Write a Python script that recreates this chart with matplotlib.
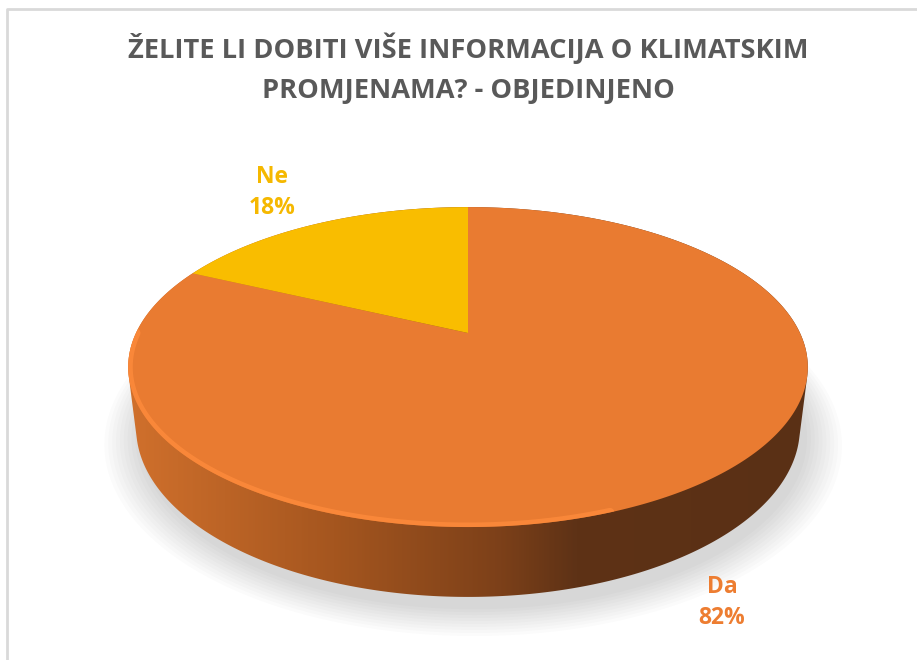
import numpy as np
import matplotlib
matplotlib.use("Agg")
import matplotlib.pyplot as plt
import matplotlib.transforms as mtransforms
from matplotlib.path import Path
from matplotlib.colors import LinearSegmentedColormap
from matplotlib.patches import Polygon, Circle

# ---- data ----
categories = ["Da", "Ne"]
values = [82, 18]
title_lines = ["ŽELITE LI DOBITI VIŠE INFORMACIJA O KLIMATSKIM",
               "PROMJENAMA? - OBJEDINJENO"]

top_colors = ["#E97B31", "#F9BD00"]
label_colors = ["#ED7D31", "#F5B800"]

W, H = 917, 660
fig = plt.figure(figsize=(W / 100, H / 100), dpi=100)
fig.patch.set_facecolor("white")

ax = fig.add_axes([0, 0, 1, 1])
ax.set_xlim(0, W)
ax.set_ylim(H, 0)
ax.axis("off")

# frame (only top/left edges visible in the crop)
ax.plot([7, 7, W + 5], [H + 5, 9, 9], color="#D9D9D9", lw=2,
        solid_capstyle="butt", zorder=0)

font = "Open Sans"
for i, line in enumerate(title_lines):
    ax.text(468, 58 + 40 * i, line, ha="center", va="baseline",
            fontsize=19.6, fontweight="bold", color="#595959", family=font)

# ---- perspective projection of the pie disk (3-D look) ----
CX, CY, K = 468.0, 333.0, 332.0
CA, SA, DIST = 0.46, 0.888, 4.17
THICK = 0.207


class Persp(mtransforms.Transform):
    input_dims = output_dims = 2
    is_separable = False
    has_inverse = False

    def __init__(self, z=0.0):
        super().__init__()
        self.z = z

    def transform_non_affine(self, values):
        v = np.asarray(values, float).reshape(-1, 2)
        x, y = v[:, 0], v[:, 1]
        Y = y * CA + self.z * SA
        Z = DIST + y * SA - self.z * CA
        return np.column_stack([CX + K * x * DIST / Z, CY - K * Y * DIST / Z])

    def transform_path_non_affine(self, path):
        pts = []
        for bez, code in path.iter_bezier():
            if code == Path.MOVETO:
                pts.append(np.atleast_2d(bez.control_points))
            else:
                pts.append(bez(np.linspace(0, 1, 24))[1:])
        verts = np.vstack(pts)
        return Path(self.transform_non_affine(verts))


top_T = Persp(0.0) + ax.transData

# soft shadow under the pie
for k in range(10):
    r = 1.0 + 0.011 * k
    c = Circle((0.015, -0.035), r, facecolor="black", alpha=0.017, lw=0, zorder=1)
    c.set_transform(Persp(-THICK - 0.01) + ax.transData)
    ax.add_patch(c)

# side wall: convex hull of the projected top and bottom rims
th = np.linspace(0, 2 * np.pi, 720, endpoint=False)
ring = np.column_stack([np.cos(th), np.sin(th)])
top_ring = Persp(0.0).transform(ring)
P = np.vstack([top_ring, Persp(-THICK).transform(ring)])


def hull(points):
    pts = sorted(map(tuple, points))

    def cross(o, a, b):
        return (a[0] - o[0]) * (b[1] - o[1]) - (a[1] - o[1]) * (b[0] - o[0])
    lower, upper = [], []
    for p in pts:
        while len(lower) >= 2 and cross(lower[-2], lower[-1], p) <= 0:
            lower.pop()
        lower.append(p)
    for p in reversed(pts):
        while len(upper) >= 2 and cross(upper[-2], upper[-1], p) <= 0:
            upper.pop()
        upper.append(p)
    return np.array(lower[:-1] + upper[:-1])


side = Polygon(hull(P), closed=True, facecolor="none", lw=0)
ax.add_patch(side)
xl, xr = P[:, 0].min(), P[:, 0].max()
yt, yb = P[:, 1].min(), P[:, 1].max()
cmap = LinearSegmentedColormap.from_list(
    "side", [(0.0, "#D0702C"), (0.3, "#A5561F"), (0.55, "#7C4019"),
             (0.66, "#5E3216"), (1.0, "#5A3015")])
grad = np.linspace(0, 1, 400).reshape(1, -1)
im = ax.imshow(grad, cmap=cmap, extent=[xl, xr, yb, yt], aspect="auto",
               zorder=2, interpolation="bilinear")
im.set_clip_path(side)
ax.set_xlim(0, W)
ax.set_ylim(H, 0)

# top face: the pie itself, drawn through the perspective transform
wedges, _ = ax.pie(values, colors=top_colors, startangle=90, counterclock=False,
                   radius=1, center=(0, 0), wedgeprops=dict(linewidth=0),
                   frame=True)
for w in wedges:
    w.set_transform(top_T)
    w.set_zorder(3)

# light bevel on the front-left rim (clipped to the projected top outline)
clip_top = Polygon(top_ring, closed=True, facecolor="none", lw=0)
ax.add_patch(clip_top)
tr = np.linspace(np.radians(180), np.radians(290), 140)
rim_xy = Persp(0.0).transform(np.column_stack([np.cos(tr), np.sin(tr)]))
rim, = ax.plot(rim_xy[:, 0], rim_xy[:, 1], color="#FF8C3C", lw=6.5, alpha=0.75,
               zorder=4, solid_capstyle="round")
rim.set_clip_path(clip_top)

ax.set_aspect("auto")
ax.set_xlim(0, W)
ax.set_ylim(H, 0)
ax.axis("off")

# data labels
label_pos = {"Da": (722, 593), "Ne": (272, 183)}
for cat, val, col in zip(categories, values, label_colors):
    lx, ly = label_pos[cat]
    ax.text(lx, ly, cat, ha="center", va="baseline", fontsize=16.5,
            fontweight="bold", color=col, family=font, zorder=5)
    ax.text(lx, ly + 31, f"{val}%", ha="center", va="baseline", fontsize=16.5,
            fontweight="bold", color=col, family=font, zorder=5)

fig.savefig("out.png", dpi=100, facecolor="white")
